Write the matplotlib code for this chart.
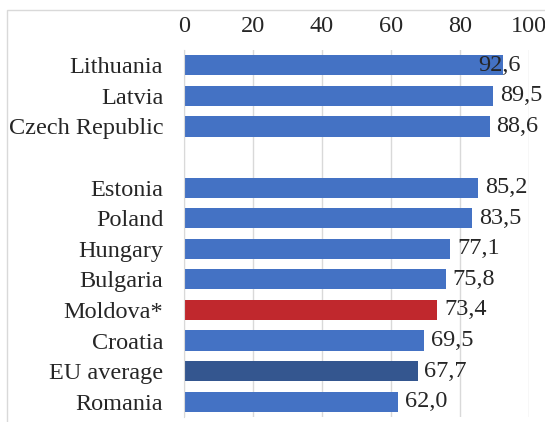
import matplotlib
matplotlib.use("Agg")
import matplotlib.pyplot as plt
from matplotlib.patches import Rectangle

# Share of population, per cent (top to bottom); None marks the spacer row
countries = ["Lithuania", "Latvia", "Czech Republic", None,
             "Estonia", "Poland", "Hungary", "Bulgaria",
             "Moldova*", "Croatia", "EU average", "Romania"]
values = [92.6, 89.5, 88.6, None, 85.2, 83.5, 77.1, 75.8, 73.4, 69.5, 67.7, 62.0]
x_ticks = [0, 20, 40, 60, 80, 100]

BLUE = "#4472C4"
RED = "#C0282D"
DARK_BLUE = "#34568F"
colors = {"Moldova*": RED, "EU average": DARK_BLUE}
FS = 17.5

plt.rcParams["font.family"] = ["Liberation Serif", "DejaVu Serif"]

fig = plt.figure(figsize=(5.45, 4.22), dpi=100)
ax = fig.add_axes([184 / 545, 1 - 417 / 422, 345 / 545, 367 / 422])

rows = list(range(len(countries)))
for y, name, v in zip(rows, countries, values):
    if name is None:
        continue
    ax.barh(y, v, height=0.66, color=colors.get(name, BLUE), zorder=2)
    label = f"{v:.1f}".replace(".", ",")
    if v > 90:
        # no room past the bar end, pull the label back inside the plot
        ax.text(97.5, y, label, ha="right", va="center", fontsize=FS,
                color="#262626", zorder=3)
    else:
        ax.text(v + 2.0, y, label, ha="left", va="center", fontsize=FS,
                color="#262626", zorder=3)

ax.set_ylim(len(countries) - 0.5, -0.5)
ax.set_xlim(0, 100)
ax.set_yticks([r for r, n in zip(rows, countries) if n is not None])
ax.set_yticklabels([n for n in countries if n is not None], fontsize=FS, color="#262626")
ax.set_xticks(x_ticks)
ax.set_xticklabels([str(t) for t in x_ticks], fontsize=FS, color="#262626")
ax.xaxis.tick_top()
ax.tick_params(axis="both", length=0)
ax.tick_params(axis="x", pad=9)
ax.tick_params(axis="y", pad=15)
ax.xaxis.grid(True, color="#D9D9D9", linewidth=1, zorder=0)
ax.set_axisbelow(True)
for side in ["top", "right", "bottom"]:
    ax.spines[side].set_visible(False)
ax.spines["left"].set_color("#D9D9D9")

# light frame around the whole chart area
fig.patches.append(Rectangle((7 / 545, -0.1), 1.2, 1 - 10 / 422 + 0.1,
                             transform=fig.transFigure, fill=False,
                             edgecolor="#D9D9D9", linewidth=1))

fig.savefig("out.png", dpi=100)
